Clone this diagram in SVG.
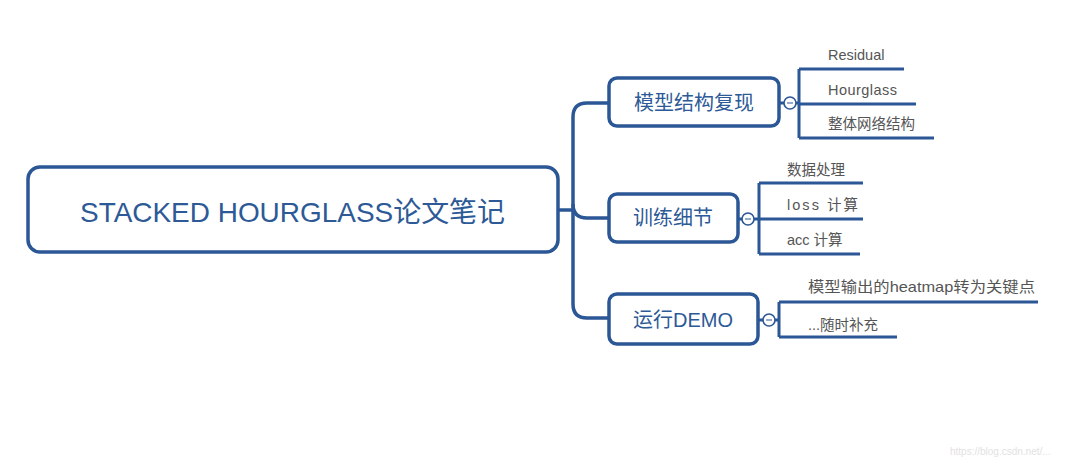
<svg xmlns="http://www.w3.org/2000/svg" width="1077" height="460" viewBox="0 0 1077 460">
<style>
.box{fill:#fff;stroke:#2c5796;stroke-width:3.5}
.ln{fill:none;stroke:#2c5796;stroke-width:3.5;stroke-linecap:butt}
.sl{fill:none;stroke:#2c5796;stroke-width:3}
.circ{fill:#fff;stroke:#2c5796;stroke-width:1.6}
.dash{stroke:#2c5796;stroke-width:1}
.t{font-family:"Liberation Sans","Noto Sans CJK SC",sans-serif;fill:#2d5a97}
.lab{font-family:"Liberation Sans","Noto Sans CJK SC",sans-serif;fill:#555;font-size:14.5px}
</style>
<rect width="1077" height="460" fill="#fff"/>
<g id="connectors">
<path class="ln" d="M558 210 H573"/>
<path class="ln" d="M609 103 H587 Q573 103 573 117 V304 Q573 318 587 318 H609"/>
<path class="ln" d="M573 204 Q573 218 587 218 H609"/>
<path class="sl" d="M779 103 H799 M799 69 V138 M799 69 H904 M799 104 H916 M799 138 H934"/>
<path class="sl" d="M738 219 H759 M759 183 V254 M759 183 H863 M759 219 H863 M759 254 H860"/>
<path class="sl" d="M758 320 H779 M779 302 V337 M779 302 H1038 M779 337 H897"/>
</g>
<g id="root">
<rect class="box" x="28" y="167" width="530" height="85" rx="12"/>
<text class="t" x="80" y="222" font-size="28" textLength="425" lengthAdjust="spacingAndGlyphs">STACKED HOURGLASS论文笔记</text>
</g>
<g id="n1">
<rect class="box" x="609" y="78" width="170" height="48" rx="8"/>
<text class="t" x="694" y="110" font-size="20" text-anchor="middle">模型结构复现</text>
<circle class="circ" cx="790" cy="103" r="6"/>
<line class="dash" x1="787" y1="103" x2="793" y2="103"/>
</g>
<g id="n2">
<rect class="box" x="609" y="194" width="129" height="48" rx="8"/>
<text class="t" x="673" y="225" font-size="20" text-anchor="middle">训练细节</text>
<circle class="circ" cx="748" cy="219" r="6"/>
<line class="dash" x1="745" y1="219" x2="751" y2="219"/>
</g>
<g id="n3">
<rect class="box" x="609" y="294" width="149" height="50" rx="8"/>
<text class="t" x="683" y="327" font-size="20" text-anchor="middle">运行DEMO</text>
<circle class="circ" cx="769" cy="320" r="6"/>
<line class="dash" x1="766" y1="320" x2="772" y2="320"/>
</g>
<g id="leaf1"><text class="lab" x="828" y="60">Residual</text></g>
<g id="leaf2"><text class="lab" x="828" y="95" textLength="69">Hourglass</text></g>
<g id="leaf3"><text class="lab" x="828" y="129">整体网络结构</text></g>
<g id="leaf4"><text class="lab" x="787" y="175">数据处理</text></g>
<g id="leaf5"><text class="lab" x="787" y="210" textLength="71">loss 计算</text></g>
<g id="leaf6"><text class="lab" x="787" y="245">acc 计算</text></g>
<g id="leaf7"><text class="lab" x="808" y="292" textLength="227" lengthAdjust="spacingAndGlyphs">模型输出的heatmap转为关键点</text></g>
<g id="leaf8"><text class="lab" x="808" y="330">...随时补充</text></g>
<text x="950" y="455" font-family="Liberation Sans, sans-serif" font-size="10" fill="#e2e2e2">https://blog.csdn.net/...</text>
</svg>
